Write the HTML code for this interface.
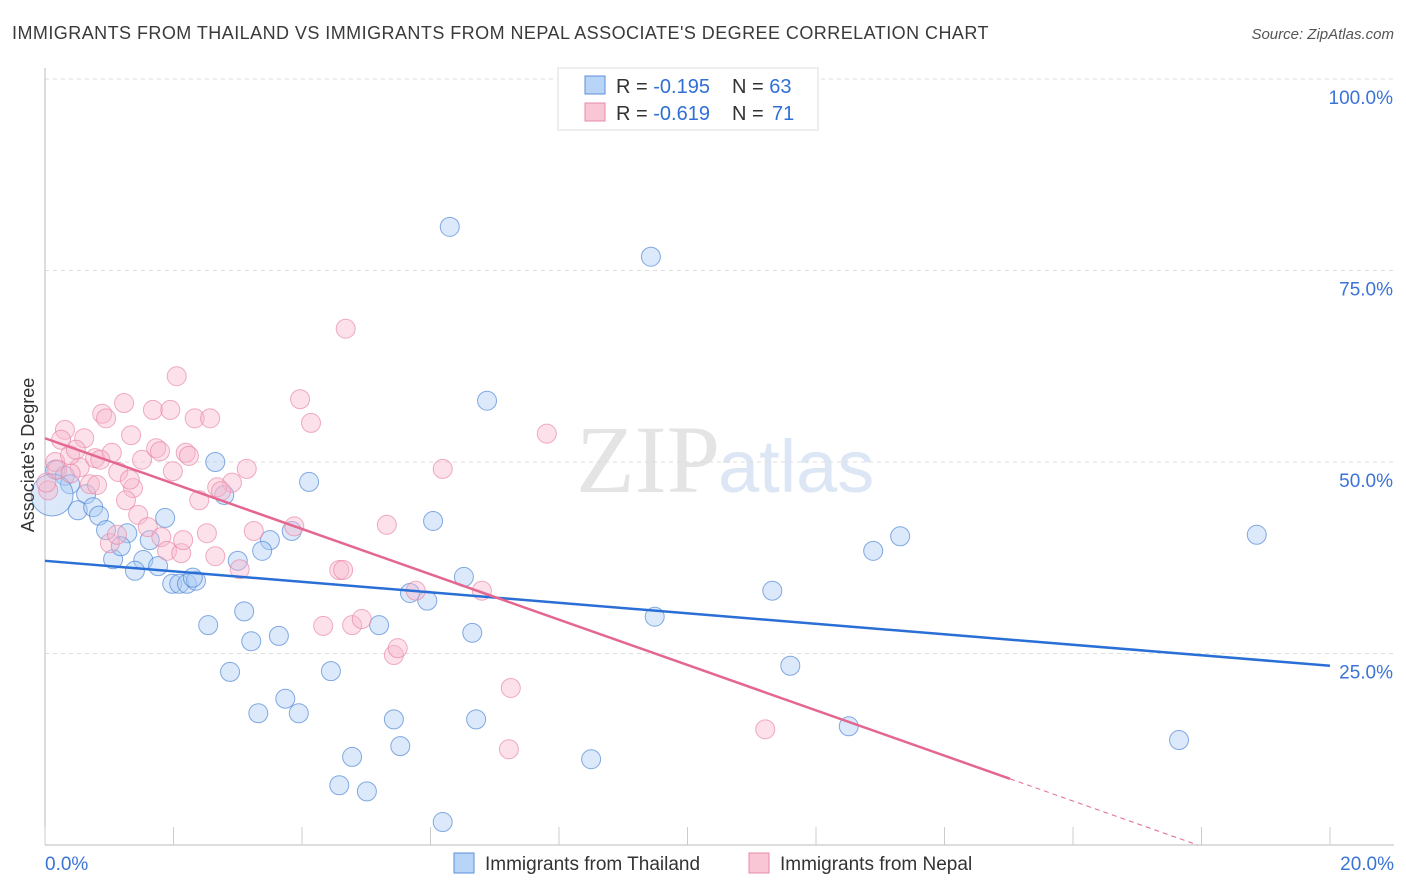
<!DOCTYPE html>
<html><head><meta charset="utf-8"><style>
body{margin:0;background:#fff;font-family:"Liberation Sans",sans-serif;}
svg{display:block}
</style></head><body>
<svg id="chart" width="1406" height="892">
<text x="12" y="39" font-size="18" fill="#3a3a3a" letter-spacing="0.45">IMMIGRANTS FROM THAILAND VS IMMIGRANTS FROM NEPAL ASSOCIATE'S DEGREE CORRELATION CHART</text>
<text x="1394" y="39" font-size="15" fill="#555" font-style="italic" text-anchor="end">Source: ZipAtlas.com</text>
<text x="720" y="492" font-size="96" fill="#e4e4e4" text-anchor="end" font-family="Liberation Serif,serif">ZIP</text>
<text x="718" y="492" font-size="74" fill="#dce6f4">atlas</text>
<g id="grid"></g><g id="axes"></g><g id="marks"></g>
<text transform="translate(34,455) rotate(-90)" font-size="18" fill="#333" text-anchor="middle">Associate's Degree</text>
<g>
<rect x="558" y="68" width="260" height="62" fill="#fff" stroke="#ddd"/>
<rect x="585" y="76" width="20" height="18" fill="#b8d4f7" stroke="#5b8fd8"/>
<rect x="585" y="103" width="20" height="18" fill="#f9c6d5" stroke="#e88aa7"/>
<text x="616" y="93" font-size="20" fill="#333">R = <tspan fill="#2f6fd6">-0.195</tspan></text>
<text x="732" y="93" font-size="20" fill="#333">N = <tspan fill="#2f6fd6">63</tspan></text>
<text x="616" y="120" font-size="20" fill="#333">R = <tspan fill="#2f6fd6">-0.619</tspan></text>
<text x="732" y="120" font-size="20" fill="#333">N =  <tspan x="772" fill="#2f6fd6">71</tspan></text>
</g>
<g>
<rect x="454" y="853" width="20" height="20" fill="#b8d4f7" stroke="#5b8fd8"/>
<text x="485" y="870" font-size="19" fill="#333">Immigrants from Thailand</text>
<rect x="749" y="853" width="20" height="20" fill="#f9c6d5" stroke="#e88aa7"/>
<text x="780" y="870" font-size="19" fill="#333">Immigrants from Nepal</text>
</g>
</svg>
<script>
const xTicks=[0,2,4,6,8,10,12,14,16,18,20];
const yTicks=[25,50,75,100];
const yTickLabels=["25.0%","50.0%","75.0%","100.0%"];
const thaiX=[6.30,9.43,6.88,2.65,4.11,2.79,6.04,1.87,3.84,3.50,3.38,3.00,13.31,12.89,18.86,6.52,5.68,5.95,11.32,3.10,2.54,5.20,6.65,9.49,3.21,3.64,2.88,4.45,11.60,3.74,3.32,3.95,5.43,6.71,12.51,5.53,4.78,8.50,17.65,4.58,5.01,6.19,0.16,0.31,0.39,0.64,0.51,0.75,0.84,0.95,1.28,1.06,1.18,1.63,1.53,1.76,1.40,1.98,2.09,2.21,2.35,2.30,0.11];
const thaiY=[80.7,76.8,58.0,50.0,47.4,45.7,42.3,42.7,41.0,39.8,38.4,37.1,40.3,38.4,40.5,35.0,32.9,31.9,33.2,30.5,28.7,28.7,27.7,29.8,26.6,27.3,22.6,22.7,23.4,19.1,17.2,17.2,16.4,16.4,15.5,12.9,11.5,11.2,13.7,7.8,7.0,3.0,49.0,48.2,47.1,45.8,43.7,44.1,43.0,41.1,40.7,37.3,39.0,39.8,37.2,36.4,35.8,34.1,34.1,34.1,34.5,34.9,45.7];
const nepalX=[4.68,2.05,3.97,4.14,7.81,6.19,1.23,0.89,0.95,1.68,1.95,2.33,2.57,0.31,0.61,0.25,1.34,0.54,0.16,0.39,0.78,1.04,1.51,1.73,1.79,2.19,2.24,3.14,1.99,1.14,0.70,0.81,1.37,2.91,2.68,2.74,1.26,2.40,1.45,2.52,1.60,1.81,1.01,3.25,3.88,1.12,1.90,2.12,2.65,3.03,4.58,4.64,5.32,6.80,5.77,4.33,4.78,4.93,5.43,5.49,7.25,7.22,11.21,0.05,0.19,0.02,0.48,0.86,2.15,1.32,0.40];
const nepalY=[67.4,61.2,58.2,55.1,53.7,49.1,57.7,56.3,55.7,56.8,56.8,55.7,55.7,54.2,53.1,52.9,53.5,49.3,50.0,50.9,50.5,51.2,50.3,51.8,51.4,51.2,50.8,49.1,48.8,48.7,47.1,47.0,46.6,47.3,46.7,46.2,45.0,45.0,43.1,40.7,41.5,40.2,39.4,41.0,41.6,40.5,38.4,38.1,37.7,36.0,35.9,35.9,41.8,33.2,33.2,28.6,28.7,29.5,24.8,25.7,20.5,12.5,15.1,46.3,49.0,47.3,51.6,50.3,39.8,47.7,48.5];
const thaiLine=[37.1,23.4];
const nepalLine=[53.1,-2.96];
const nepalSolidEnd=15.02;
const NS="http://www.w3.org/2000/svg";
const X0=45,X1=1330,Y0=845,Y100=79;
const sx=v=>X0+(X1-X0)*v/20;
const sy=v=>Y0-(Y0-Y100)*v/100;
function mk(t,a,p){const e=document.createElementNS(NS,t);for(const k in a)e.setAttribute(k,a[k]);p.appendChild(e);return e;}
const grid=document.getElementById('grid'),axes=document.getElementById('axes'),marks=document.getElementById('marks');
yTicks.forEach((v,i)=>{
 const l=mk('line',{x1:X0,x2:1394,y1:sy(v),y2:sy(v),stroke:'#ddd','stroke-dasharray':'4,4'},grid);
 
 
 const t=mk('text',{x:1393,y:sy(v)+25,'font-size':19,fill:'#3b73d6','text-anchor':'end'},axes);
 t.textContent=yTickLabels[i];
 
 
});
const ax=mk('line',{x1:X0,x2:1394,y1:Y0,y2:Y0,stroke:'#bbb'},axes);


const ay=mk('line',{x1:X0,x2:X0,y1:68,y2:Y0,stroke:'#bbb'},axes);


xTicks.forEach(v=>{
 const l=mk('line',{x1:sx(v),x2:sx(v),y1:Y0,y2:Y0-18,stroke:'#ccc'},axes);
 
 
});
[[0,"0.0%",'start',X0],[20,"20.0%",'end',1394]].forEach(([v,s,a,x])=>{
 const t=mk('text',{x:x,y:870,'font-size':19,fill:'#3b73d6','text-anchor':a},axes);
 t.textContent=s;
 
 
});
thaiX.forEach((x,i)=>{
 const big=i===thaiX.length-1;
 const c=mk('circle',{cx:sx(x),cy:sy(thaiY[i]),r:big?21:9.5,fill:'rgba(170,202,242,0.42)',stroke:'rgba(70,128,212,0.65)','stroke-width':1},marks);
 
 
});
nepalX.forEach((x,i)=>{
 const c=mk('circle',{cx:sx(x),cy:sy(nepalY[i]),r:9.5,fill:'rgba(247,184,204,0.42)',stroke:'rgba(232,130,162,0.65)','stroke-width':1},marks);
 
 
});
const tl=mk('line',{x1:sx(0),y1:sy(thaiLine[0]),x2:sx(20),y2:sy(thaiLine[1]),stroke:'#2a6fd6','stroke-width':2.5},marks);


const ny=x=>nepalLine[0]+nepalLine[1]*x;
const nl=mk('line',{x1:sx(0),y1:sy(ny(0)),x2:sx(nepalSolidEnd),y2:sy(ny(nepalSolidEnd)),stroke:'#e4678f','stroke-width':2.5},marks);


const xe=-nepalLine[0]/nepalLine[1];
const nd=mk('line',{x1:sx(nepalSolidEnd),y1:sy(ny(nepalSolidEnd)),x2:sx(xe),y2:sy(0),stroke:'#e4678f','stroke-width':1,'stroke-dasharray':'5,4'},marks);


</script>
</body></html>
